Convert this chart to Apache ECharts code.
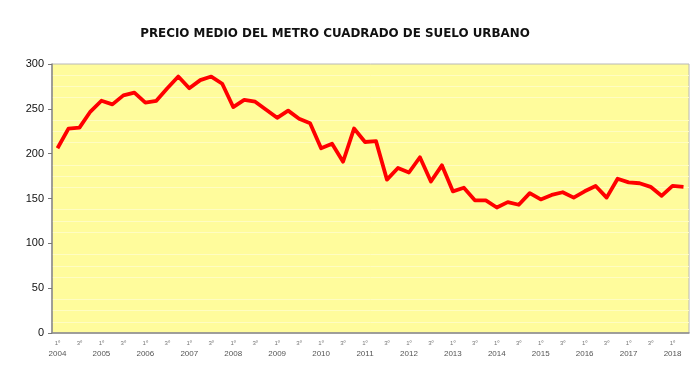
<!DOCTYPE html>
<html>
<head>
<meta charset="utf-8">
<script src="https://cdn.jsdelivr.net/npm/echarts@6/dist/echarts.min.js"></script>
<style>html,body{margin:0;padding:0;background:#fff;}#c{width:699px;height:373px;}</style>
</head>
<body>
<div id="c"></div>
<script>
var titleText = 'PRECIO MEDIO DEL METRO CUADRADO DE SUELO URBANO';
var years = [2004,2005,2006,2007,2008,2009,2010,2011,2012,2013,2014,2015,2016,2017,2018];
var quarters = ['1º','2º','3º','4º'];
var yTicks = {min: 0, max: 300, interval: 50};
var precio = [206, 228, 229, 247, 259, 255, 265, 268, 257, 259, 273, 286, 273, 282,
              286, 278, 252, 260, 258, 249, 240, 248, 239, 234, 206, 211, 191, 228,
              213, 214, 171, 184, 179, 196, 169, 187, 158, 162, 148, 148, 140, 146,
              143, 156, 149, 154, 157, 151, 158, 164, 151, 172, 168, 167, 163, 153,
              164, 163];

var categories = [];
for (var i = 0; i < precio.length; i++) {
  var y = years[Math.floor(i / 4)];
  categories.push(quarters[i % 4] + '|' + y);
}

var chart = echarts.init(document.getElementById('c'));
chart.setOption({
  animation: false,
  backgroundColor: '#ffffff',
  title: {
    text: titleText,
    left: 330, top: 23, textAlign: 'center',
    textStyle: {fontFamily: 'DejaVu Sans', fontWeight: 'bold', fontSize: 11.9, color: '#111'}
  },
  grid: {left: 52, right: 10, top: 64, bottom: 40, show: true,
         backgroundColor: '#FFFC9C', borderColor: '#b8b8b8', borderWidth: 1},
  xAxis: {
    type: 'category', data: categories, boundaryGap: true,
    axisLine: {lineStyle: {color: '#8a8a8a', width: 1.5}},
    axisTick: {show: false},
    axisLabel: {
      interval: 1, margin: 5,
      formatter: function (v) {
        var p = v.split('|');
        if (p[0] === '1º') return '{q|' + p[0] + '}\n{y|' + p[1] + '}';
        return '{q|' + p[0] + '}\n{y| }';
      },
      rich: {
        q: {fontSize: 6, lineHeight: 10, color: '#777', fontFamily: 'Liberation Sans'},
        y: {fontSize: 8, lineHeight: 11, color: '#555', fontFamily: 'Liberation Sans'}
      }
    },
    splitLine: {show: false}
  },
  yAxis: {
    type: 'value', min: yTicks.min, max: yTicks.max, interval: yTicks.interval,
    axisLine: {show: true, lineStyle: {color: '#8a8a8a', width: 1.5}},
    axisTick: {show: true, length: 4, lineStyle: {color: '#777'}},
    axisLabel: {fontSize: 11, color: '#111', margin: 8, fontFamily: 'Liberation Sans'},
    splitLine: {show: false},
    minorTick: {show: false, splitNumber: 4},
    minorSplitLine: {show: true, lineStyle: {color: '#FFFDC2', width: 1}}
  },
  series: [{
    type: 'line', data: precio, showSymbol: false, symbol: 'none',
    lineStyle: {color: '#FF0000', width: 3.8, join: 'round'},
    itemStyle: {color: '#FF0000'}
  }]
});
</script>
</body>
</html>
